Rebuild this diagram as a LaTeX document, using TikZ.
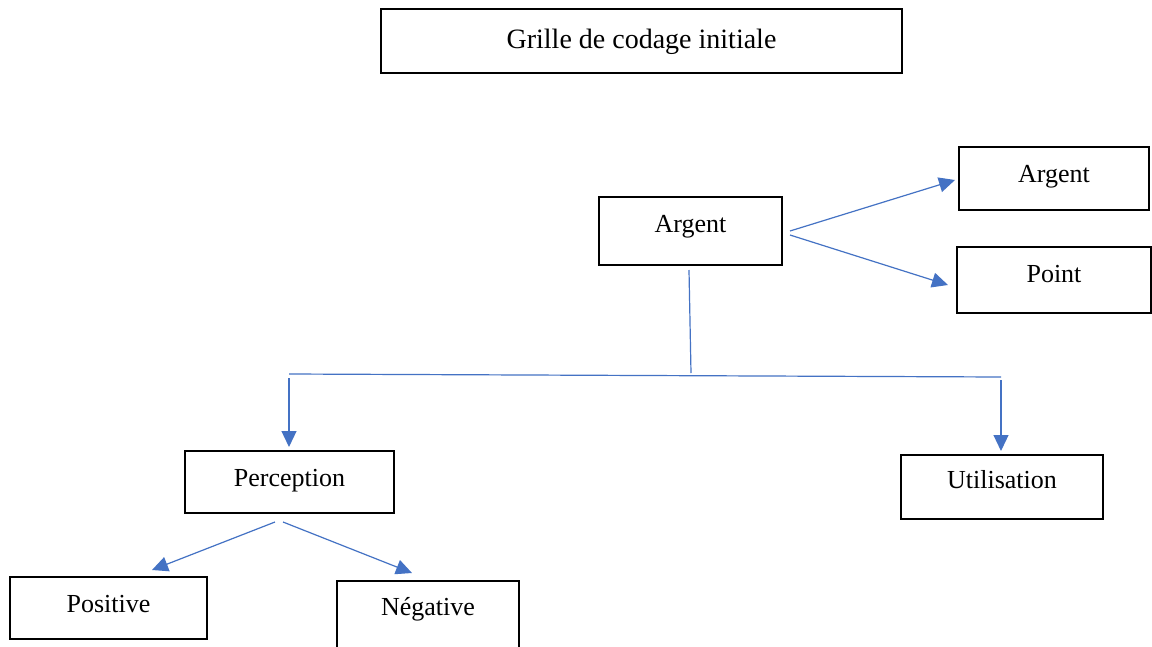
\documentclass[tikz,border=0pt]{standalone}
\usepackage{fontspec}
\setmainfont{Liberation Serif}
\usetikzlibrary{arrows.meta}
\definecolor{wordblue}{HTML}{4472C4}
\begin{document}
\begin{tikzpicture}[x=1pt,y=-1pt,
  box/.style={draw=black,line width=1.8pt,inner sep=0pt,anchor=north,fill=white,
    font=\fontsize{26}{30}\selectfont},
  conn/.style={draw=wordblue,line width=1.2pt},
  arr/.style={conn,-{Triangle[length=16pt,width=15pt]}}]
\useasboundingbox[fill=white] (0,0) rectangle (1152,646);
\node[box,minimum width=521pt,text height=40pt,text depth=24pt,font=\fontsize{28}{32}\selectfont] (title) at (641.5,8) {Grille de codage initiale};
\node[box,minimum width=183pt,text height=36pt,text depth=32pt] (arg) at (690.5,196) {Argent};
\node[box,minimum width=190pt,text height=36pt,text depth=27pt] (arg2) at (1054,146) {Argent};
\node[box,minimum width=194pt,text height=36pt,text depth=30pt] (pt) at (1054,246) {Point};
\node[box,minimum width=209pt,text height=36pt,text depth=26pt] (perc) at (289.5,450) {Perception};
\node[box,minimum width=202pt,text height=34pt,text depth=30pt] (util) at (1002,454) {Utilisation};
\node[box,minimum width=197pt,text height=36pt,text depth=26pt] (pos) at (108.5,576) {Positive};
\node[box,minimum width=182pt,text height=35pt,text depth=45pt] (neg) at (428,580) {Négative};
% free ends of connectors
\coordinate (a1) at (790,231);
\coordinate (a2) at (790,235);
\coordinate (t1) at (955,180);
\coordinate (t2) at (948,285);
\coordinate (v1) at (689,270);
\coordinate (v2) at (691,373);
\coordinate (hL) at (289,374);
\coordinate (hR) at (1001,377);
\coordinate (dL) at (289,378);
\coordinate (dLe) at (289,447);
\coordinate (dR) at (1001,380);
\coordinate (dRe) at (1001,451);
\coordinate (p1) at (275,522);
\coordinate (p2) at (283,522);
\coordinate (q1) at (152,570);
\coordinate (q2) at (412,573);
\draw[arr] (a1) -- (t1);
\draw[arr] (a2) -- (t2);
\draw[conn] (v1) -- (v2);
\draw[conn] (hL) -- (hR);
\draw[arr] (dL) -- (dLe);
\draw[arr] (dR) -- (dRe);
\draw[arr] (p1) -- (q1);
\draw[arr] (p2) -- (q2);
\end{tikzpicture}
\end{document}
